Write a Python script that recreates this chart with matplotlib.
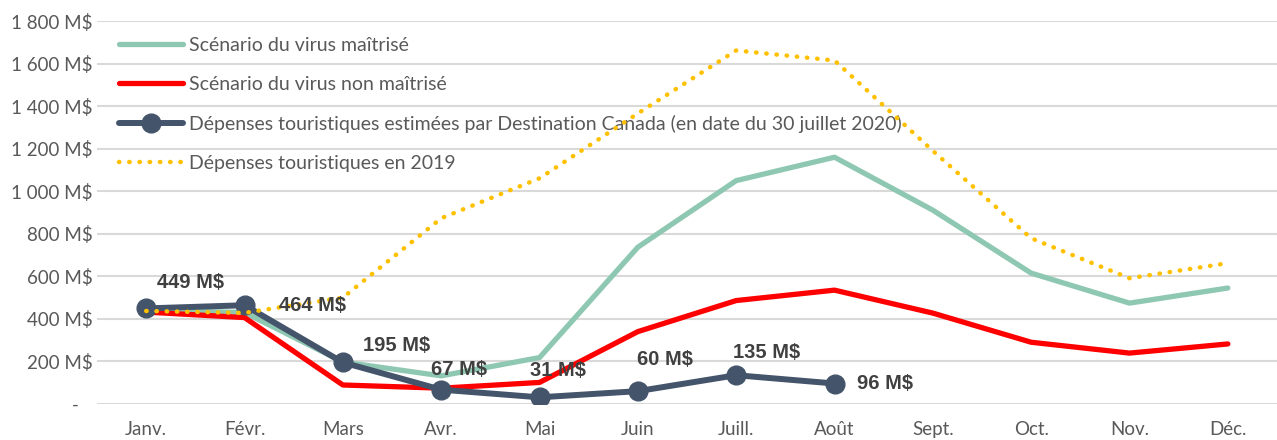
import matplotlib.pyplot as plt
from matplotlib.ticker import FuncFormatter

# Monthly tourism spending (M$)
mois = ['Janv.', 'Févr.', 'Mars', 'Avr.', 'Mai', 'Juin', 'Juill.', 'Août',
        'Sept.', 'Oct.', 'Nov.', 'Déc.']
maitrise = [440, 430, 197, 132, 218, 737, 1050, 1160, 911, 615, 474, 545]
non_maitrise = [432, 406, 89, 74, 101, 340, 486, 535, 427, 290, 239, 282]
estimees = [449, 464, 195, 67, 31, 60, 135, 96]
depenses_2019 = [437, 428, 500, 873, 1061, 1366, 1662, 1615, 1190, 779, 591, 662]

# where each data label sits relative to its point (pixels)
label_offsets = [(44, 26), (68, 0), (54, 17), (18, 20), (18, 27), (27, 32), (30, 23), (50, 0)]

plt.rcParams['font.family'] = ['Lato', 'DejaVu Sans']
grey = '#595959'

fig = plt.figure(figsize=(12.77, 4.4), dpi=100)
ax = fig.add_axes([0.076, 0.082, 0.924, 0.870])

x = range(len(mois))
ax.plot(x, maitrise, color='#8FC8B2', lw=3.8, solid_joinstyle='round',
        solid_capstyle='round', label='Scénario du virus maîtrisé', zorder=3)
ax.plot(x, non_maitrise, color='#FF0000', lw=3.8, solid_joinstyle='round',
        solid_capstyle='round', label='Scénario du virus non maîtrisé', zorder=4)
ax.plot(range(len(estimees)), estimees, color='#44546A', lw=4.3, marker='o',
        markersize=13.5, solid_joinstyle='round', solid_capstyle='round',
        label='Dépenses touristiques estimées par Destination Canada (en date du 30 juillet 2020)',
        zorder=5)
ax.plot(x, depenses_2019, color='#FFC000', lw=3.2, linestyle=(0, (0.1, 2.2)),
        dash_capstyle='round', label='Dépenses touristiques en 2019', zorder=6)

for i, v in enumerate(estimees):
    ax.annotate(f'{v} M$', (i, v), xytext=label_offsets[i], textcoords='offset pixels',
                ha='center', va='center', fontsize=14.5, fontweight='bold',
                family='Liberation Sans', color='#404040', zorder=7)

ax.set_xlim(-0.5, len(mois) - 0.5)
ax.set_ylim(0, 1800)
ax.set_yticks(range(0, 1801, 200))


def fmt(v, pos):
    if v == 0:
        return '-   '
    return f'{int(v):,} M$'.replace(',', ' ')


ax.yaxis.set_major_formatter(FuncFormatter(fmt))
ax.set_xticks(list(x))
ax.set_xticklabels(mois)
ax.tick_params(axis='both', length=0, labelsize=13.5, labelcolor=grey)
ax.tick_params(axis='x', pad=12)
ax.tick_params(axis='y', pad=3)
ax.grid(axis='y', color='#D9D9D9', lw=1.5)
ax.set_axisbelow(True)
for s in ax.spines.values():
    s.set_visible(False)

leg = ax.legend(loc='upper left', bbox_to_anchor=(0.012, 0.98), frameon=False,
                fontsize=14, handlelength=3.3, handletextpad=0.3, labelspacing=1.13,
                borderaxespad=0)
for t in leg.get_texts():
    t.set_color(grey)

fig.savefig('out.png', dpi=100)
